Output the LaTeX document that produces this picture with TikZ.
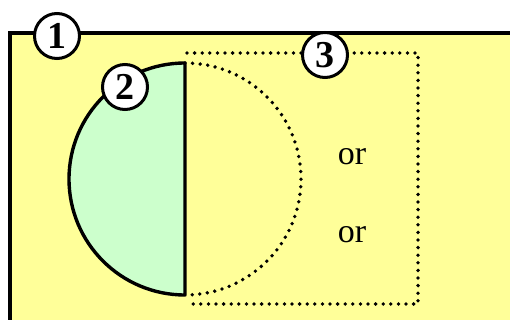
\documentclass[tikz,border=0pt]{standalone}
\usepackage{fontspec}
\setmainfont{Liberation Serif}
\definecolor{bgyellow}{RGB}{255,255,153}
\definecolor{lgreen}{RGB}{204,255,204}
\begin{document}
\begin{tikzpicture}[x=1pt,y=-1pt,
  numcirc/.style={circle,draw=black,fill=white,line width=3pt,minimum size=45pt,inner sep=0pt,font=\fontsize{38}{38}\selectfont\bfseries},
  dotline/.style={line width=3.8pt,line cap=round,dash pattern=on 0pt off 7.6pt},
  solidline/.style={line width=3.4pt},
  ortext/.style={font=\fontsize{34}{34}\selectfont}]
\useasboundingbox (0,0) rectangle (510,320);
% main yellow region
\fill[bgyellow] (10,33) rectangle (515,325);
\draw[solidline] (10,325) -- (10,33) -- (515,33);
% green half disc
\fill[lgreen] (185,63) arc[start angle=270,end angle=90,radius=116] -- cycle;
% dotted half circle and rectangle
\draw[dotline] (185,63) arc[start angle=270,end angle=450,radius=116];
\draw[dotline] (187,53) -- (418,53) -- (418,304) -- (187,304);
% solid arc and diameter
\draw[solidline,line join=round] (185,295) arc[start angle=90,end angle=270,radius=116] -- cycle;
% labels
\node[numcirc] (n1) at (57,36) {1};
\node[numcirc] (n2) at (125,87) {2};
\node[numcirc] (n3) at (325,55) {3};
\node[ortext] (or1) at (352,157) {or};
\node[ortext] (or2) at (352,235) {or};
\end{tikzpicture}
\end{document}
